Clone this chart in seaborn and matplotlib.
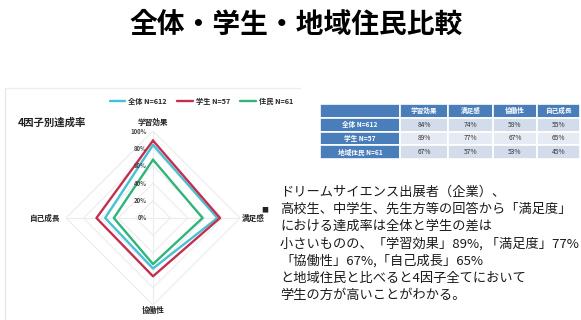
import numpy as np
import pandas as pd
import matplotlib
matplotlib.use("Agg")
import matplotlib.pyplot as plt
import matplotlib.transforms as mtransforms
from matplotlib.lines import Line2D
import seaborn as sns

# ---------------- data ----------------
categories = ["学習効果", "満足感", "協働性", "自己成長"]
series_names = ["全体 N=612", "学生 N=57", "住民 N=61"]
table_rows = ["全体 N=612", "学生 N=57", "地域住民 N=61"]
total_vals = [84, 74, 58, 55]
student_vals = [89, 77, 67, 65]
resident_vals = [67, 57, 53, 45]
r_ticks = [0, 20, 40, 60, 80, 100]
r_tick_labels = ["0%", "20%", "40%", "60%", "80%", "100%"]
title = "全体・学生・地域住民比較"
chart_title = "4因子別達成率"
body_lines = [
    "ドリームサイエンス出展者（企業）、",
    "高校生、中学生、先生方等の回答から「満足度」",
    "における達成率は全体と学生の差は",
    "小さいものの、「学習効果」89%, 「満足度」77%",
    "「協働性」67%,「自己成長」65%",
    "と地域住民と比べると4因子全てにおいて",
    "学生の方が高いことがわかる。",
]

colors = ["#46C1D3", "#C3304F", "#2FB47A"]

sns.set_theme(style="white")
plt.rcParams["font.family"] = ["Noto Sans CJK JP", "DejaVu Sans"]

W, H = 581, 320
fig = plt.figure(figsize=(W / 100, H / 100), dpi=100)

# title
fig.text(296 / W, 1 - 25 / H, title, ha="center", va="center", fontsize=20,
         fontweight="bold", color="#000000")

# faint panel border
fig.add_artist(Line2D([5 / W, 5 / W], [0, 1 - 88 / H], color="#E8E8E8", lw=1))
fig.add_artist(Line2D([5 / W, 300 / W], [1 - 88 / H, 1 - 88 / H], color="#EEEEEE", lw=1))

# ---------------- radar ----------------
cx, cy, R = 153, 218, 87
ax = fig.add_axes([(cx - R) / W, (H - cy - R) / H, 2 * R / W, 2 * R / H], projection="polar")
ax.set_theta_offset(np.pi / 2)
ax.set_theta_direction(-1)
ax.set_ylim(0, 100)

n = len(categories)
angles = [2 * np.pi * i / n for i in range(n)]
angles_closed = angles + [2 * np.pi]

rows = []
for name, vals in zip(series_names, [total_vals, student_vals, resident_vals]):
    for th, v in zip(angles_closed, vals + [vals[0]]):
        rows.append({"theta": th, "value": v, "series": name})
df = pd.DataFrame(rows)

# faint polygon grid
for r in r_ticks[1:]:
    ax.plot(angles_closed, [r] * len(angles_closed), color="#ECECEC", lw=0.8, zorder=0)
for th in angles:
    ax.plot([th, th], [0, 100], color="#ECECEC", lw=0.8, zorder=0)

sns.lineplot(data=df, x="theta", y="value", hue="series", sort=False,
             estimator=None, palette=colors, linewidth=1.7, ax=ax, legend=True)
handles, labels = ax.get_legend_handles_labels()
ax.get_legend().remove()

ax.grid(False)
ax.set_xticks([])
ax.set_yticks([])
ax.set_xlabel("")
ax.set_ylabel("")
ax.spines["polar"].set_visible(False)
ax.set_facecolor("none")

# radial tick labels
off = mtransforms.offset_copy(ax.transData, fig=fig, x=-6, y=0, units="dots")
for r, lab in zip(r_ticks, r_tick_labels):
    ax.text(0, r, lab, transform=off, ha="right", va="center", fontsize=4.3,
            color="#444444", fontweight="bold")

# category labels
lab_fs = 5.5
ax.text(angles[0], 110, categories[0], ha="center", va="center", fontsize=lab_fs,
        fontweight="bold", color="#222222", clip_on=False)
ax.text(angles[1], 102, categories[1], ha="left", va="center", fontsize=lab_fs,
        fontweight="bold", color="#222222", clip_on=False)
ax.text(angles[2], 106, categories[2], ha="center", va="center", fontsize=lab_fs,
        fontweight="bold", color="#222222", clip_on=False)
ax.text(angles[3], 107, categories[3], ha="right", va="center", fontsize=lab_fs,
        fontweight="bold", color="#222222", clip_on=False)

# chart title and legend
fig.text(18 / W, 1 - 123 / H, chart_title, ha="left", va="center", fontsize=7.5,
         fontweight="bold", color="#222222")
fig.legend(handles, labels, loc="center left", bbox_to_anchor=(103 / W, 1 - 101 / H),
           ncol=3, frameon=False, handlelength=2.2, handletextpad=0.4,
           columnspacing=1.4, prop={"weight": "bold", "size": 5.2})

# ---------------- table ----------------
tax = fig.add_axes([320 / W, (H - 159) / H, 260 / W, 55 / H])
tax.axis("off")
cell_text = [["", *categories]]
for name, vals in zip(table_rows, [total_vals, student_vals, resident_vals]):
    cell_text.append([name] + [f"{v}%" for v in vals])
tbl = tax.table(cellText=cell_text, bbox=[0, 0, 1, 1], cellLoc="center",
                colWidths=[80, 48, 45, 44, 43])
tbl.auto_set_font_size(False)
for (r, c), cell in tbl.get_celld().items():
    cell.set_edgecolor("white")
    cell.set_linewidth(1.2)
    txt = cell.get_text()
    txt.set_fontsize(4.8)
    txt.set_fontfamily(["Noto Sans CJK JP", "DejaVu Sans"])
    if r == 0 or c == 0:
        cell.set_facecolor("#4A7EBB")
        txt.set_color("white")
        txt.set_fontweight("bold")
    else:
        cell.set_facecolor("#D3DCEA" if r % 2 == 1 else "#E6EBF3")
        txt.set_color("#333333")

# ---------------- body text ----------------
fig.text(265 / W, 1 - 210 / H, "■", ha="center", va="center", fontsize=5, color="#222222")
y0 = 192
for i, line in enumerate(body_lines):
    fig.text(280 / W, 1 - (y0 + i * 17.2) / H, line, ha="left", va="center",
             fontsize=9.5, color="#1A1A1A")

fig.savefig("out.png", dpi=100)
